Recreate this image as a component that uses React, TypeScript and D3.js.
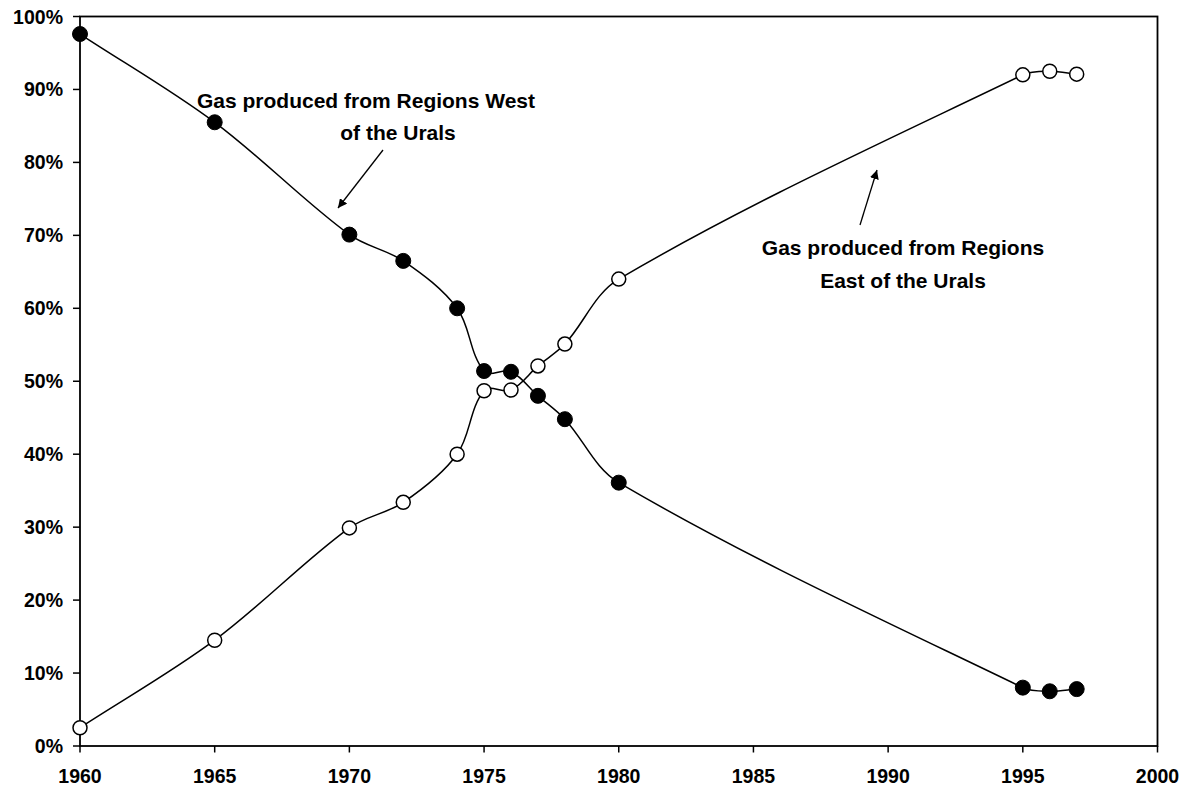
import * as d3 from 'd3'

const years = [1960, 1965, 1970, 1972, 1974, 1975, 1976, 1977, 1978, 1980, 1995, 1996, 1997]
const westShare = [97.6, 85.5, 70.1, 66.5, 60.0, 51.4, 51.3, 48.0, 44.8, 36.1, 8.0, 7.5, 7.8]
const eastShare = [2.5, 14.5, 29.9, 33.4, 40.0, 48.7, 48.8, 52.1, 55.1, 64.0, 92.0, 92.5, 92.1]
const xTicks = [1960, 1965, 1970, 1975, 1980, 1985, 1990, 1995, 2000]
const yTicks = [0, 10, 20, 30, 40, 50, 60, 70, 80, 90, 100]

const W = 1190
const H = 788
const margin = { top: 16.5, right: 32.5, bottom: 42, left: 80 }
const font = '"Liberation Sans", Arial, sans-serif'

// excel-style smoothing: tangent along neighbours, arm length scaled to each segment
function smoothPath(pts: [number, number][]) {
  const p = d3.path()
  const n = pts.length
  const tan = pts.map((_, i) => {
    const a = pts[Math.max(0, i - 1)]
    const b = pts[Math.min(n - 1, i + 1)]
    const dx = b[0] - a[0], dy = b[1] - a[1]
    const len = Math.hypot(dx, dy) || 1
    return [dx / len, dy / len]
  })
  p.moveTo(pts[0][0], pts[0][1])
  for (let i = 0; i < n - 1; i++) {
    const [ax, ay] = pts[i], [bx, by] = pts[i + 1]
    const arm = Math.hypot(bx - ax, by - ay) / 3
    p.bezierCurveTo(
      ax + tan[i][0] * arm, ay + tan[i][1] * arm,
      bx - tan[i + 1][0] * arm, by - tan[i + 1][1] * arm,
      bx, by
    )
  }
  return p.toString()
}

export default function App() {
  const x = d3.scaleLinear().domain([1960, 2000]).range([margin.left, W - margin.right])
  const y = d3.scaleLinear().domain([0, 100]).range([H - margin.bottom, margin.top])

  const west = years.map((yr, i) => [x(yr), y(westShare[i])] as [number, number])
  const east = years.map((yr, i) => [x(yr), y(eastShare[i])] as [number, number])

  const [x0, x1] = x.range()
  const [y0, y1] = y.range()

  return (
    <svg width={W} height={H} style={{ position: 'absolute', left: 0, top: 0, background: '#fff' }}
      fontFamily={font}>
      <defs>
        <marker id="arrow" viewBox="0 0 10 10" refX="10" refY="5" markerWidth="9" markerHeight="9"
          orient="auto" markerUnits="userSpaceOnUse">
          <path d="M0,0 L10,5 L0,10 z" fill="#000" />
        </marker>
      </defs>

      {/* plot frame */}
      <rect x={x0} y={y1} width={x1 - x0} height={y0 - y1} fill="none" stroke="#000" strokeWidth={1.8} />

      {/* y axis */}
      {yTicks.map(t => (
        <g key={'y' + t}>
          <line x1={x0 - 7} x2={x0} y1={y(t)} y2={y(t)} stroke="#000" strokeWidth={1.5} />
          <text x={63} y={y(t)} dy="0.36em" textAnchor="end" fontSize={19.5} fontWeight="bold">{t}%</text>
        </g>
      ))}

      {/* x axis */}
      {xTicks.map(t => (
        <g key={'x' + t}>
          <line x1={x(t)} x2={x(t)} y1={y0} y2={y0 + 6.5} stroke="#000" strokeWidth={1.5} />
          <text x={x(t)} y={783} textAnchor="middle" fontSize={19.5} fontWeight="bold">{t}</text>
        </g>
      ))}

      <path d={smoothPath(west)} fill="none" stroke="#000" strokeWidth={1.5} />
      <path d={smoothPath(east)} fill="none" stroke="#000" strokeWidth={1.5} />

      {west.map((d, i) => (
        <circle key={'w' + i} cx={d[0]} cy={d[1]} r={7.5} fill="#000" stroke="#000" strokeWidth={1} />
      ))}
      {east.map((d, i) => (
        <circle key={'e' + i} cx={d[0]} cy={d[1]} r={7} fill="#fff" stroke="#000" strokeWidth={1.5} />
      ))}

      {/* annotations */}
      <g fontSize={21} fontWeight="bold" textAnchor="middle">
        <text x={366} y={108}>Gas produced from Regions West</text>
        <text x={398} y={140}>of the Urals</text>
        <text x={903} y={255}>Gas produced from Regions</text>
        <text x={903} y={288}>East of the Urals</text>
      </g>
      <line x1={383} y1={150} x2={338} y2={208} stroke="#000" strokeWidth={1.3} markerEnd="url(#arrow)" />
      <line x1={860} y1={225} x2={877} y2={170} stroke="#000" strokeWidth={1.3} markerEnd="url(#arrow)" />
    </svg>
  )
}
